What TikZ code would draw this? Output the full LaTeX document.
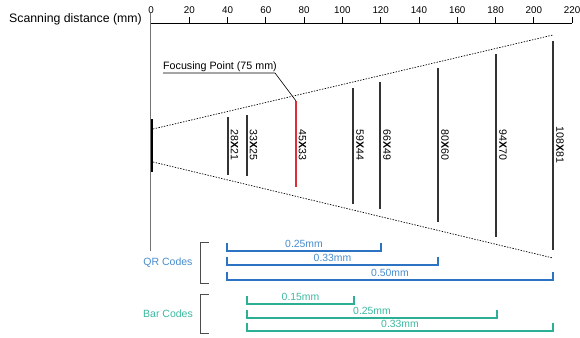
\documentclass[tikz,border=0pt]{standalone}
\usepackage{fontspec}
\setmainfont{Liberation Sans}
\definecolor{qrblue}{RGB}{45,115,195}
\definecolor{qrtext}{RGB}{70,140,205}
\definecolor{barteal}{RGB}{45,175,150}
\definecolor{bartext}{RGB}{60,185,160}
\definecolor{focred}{RGB}{225,45,55}
\begin{document}
\begin{tikzpicture}[x=1pt,y=-1pt,
  ticklab/.style={font=\fontsize{9.8}{10}\selectfont, inner sep=0pt},
  sizebar/.style={line width=1.3pt, draw=black!80},
  sizelab/.style={font=\fontsize{10.6}{11}\selectfont, rotate=-90, inner sep=0pt},
  fov/.style={dashed, dash pattern=on 1.4pt off 1.4pt, line width=0.7pt},
  rangeline/.style={line width=1.1pt},
  rangelab/.style={font=\fontsize{10.4}{11}\selectfont, inner sep=0pt},
  grouplab/.style={font=\fontsize{10.5}{11}\selectfont, inner sep=0pt},
  bracket/.style={line width=1pt, draw=black!70}]
\useasboundingbox (0,0) rectangle (580,337);
% axis
\node[font=\fontsize{12.3}{13}\selectfont, inner sep=0pt, anchor=east] (axtitle) at (142,19) {Scanning distance (mm)};
\coordinate (ax0) at (150,23);
\coordinate (ax1) at (572,23);
\draw[line width=0.9pt] (ax0) -- (ax1);
\foreach \m in {20,40,...,220} {
  \coordinate (t\m) at ({151+1.914*\m},23);
  \draw[line width=0.8pt] (t\m) -- ++(0,-6);
  \node[ticklab] (tl\m) at ({151+1.914*\m},10) {\m};
}
\node[ticklab] (tl0) at (151,10) {0};
% scanner baseline
\coordinate (v0) at (150.5,13);
\coordinate (v1) at (150.5,251);
\draw[line width=1.2pt, draw=black!55] (v0) -- (v1);
\coordinate (s0) at (152,119);
\coordinate (s1) at (152,172);
\draw[line width=2.5pt] (s0) -- (s1);
% field of view
\coordinate (f0) at (153,129);
\coordinate (f1) at (553,35);
\coordinate (g0) at (153,162);
\coordinate (g1) at (553,258);
\draw[fov] (f0) -- (f1);
\draw[fov] (g0) -- (g1);
% size bars
\foreach \x/\a/\b/\t in {228/117/175/28,247/115/176/33,353/88/204/59,380/82/209/66,438/68/222/80,496/54/237/94,553/41/250/108} {
  \draw[sizebar] (\x,\a) coordinate (b\t top) -- (\x,\b) coordinate (b\t bot);
}
\draw[line width=1.3pt, draw=focred] (296,101) coordinate (b45top) -- (296,187) coordinate (b45bot);
\node[sizelab] (l28) at (234.5,145) {28\textbf{X}21};
\node[sizelab] (l33) at (253.5,145) {33\textbf{X}25};
\node[sizelab] (l45) at (302.5,145) {45\textbf{X}33};
\node[sizelab] (l59) at (360,145) {59\textbf{X}44};
\node[sizelab] (l66) at (387,145) {66\textbf{X}49};
\node[sizelab] (l80) at (445,145) {80\textbf{X}60};
\node[sizelab] (l94) at (503,145) {94\textbf{X}70};
\node[sizelab] (l108) at (560,145) {108\textbf{X}81};
% focusing point
\node[font=\fontsize{10.7}{11}\selectfont, inner sep=0pt, anchor=south west] (focus) at (163,71.5) {Focusing Point (75 mm)};
\coordinate (u0) at (163,73);
\coordinate (u1) at (275,73);
\draw[line width=0.6pt] (u0) -- (u1) -- (b45top);
% QR codes
\node[grouplab, text=qrtext] (qr) at (168,263) {QR Codes};
\draw[bracket] (209,242) coordinate (qa) -- (200,242) -- (200,283) -- (209,283) coordinate (qb);
\foreach \x/\y/\t/\n in {381/251/0.25mm/q1, 438/265/0.33mm/q2, 553/280/0.50mm/q3} {
  \draw[rangeline, draw=qrblue] (227,\y-8) coordinate (\n a) -- (227,\y) -- (\x,\y) -- (\x,\y-8) coordinate (\n b);
  \node[rangelab, text=qrtext] (\n l) at ({(227+\x)/2},\y-7.5) {\t};
}
% Bar codes
\node[grouplab, text=bartext] (bc) at (168,314) {Bar Codes};
\draw[bracket] (209,294) coordinate (ba) -- (200,294) -- (200,333) -- (209,333) coordinate (bb);
\foreach \x/\y/\t/\n in {354/304/0.15mm/c1, 497/318/0.25mm/c2, 553/331/0.33mm/c3} {
  \draw[rangeline, draw=barteal] (247,\y-8) coordinate (\n a) -- (247,\y) -- (\x,\y) -- (\x,\y-8) coordinate (\n b);
  \node[rangelab, text=bartext] (\n l) at ({(247+\x)/2},\y-7.5) {\t};
}
\end{tikzpicture}
\end{document}
